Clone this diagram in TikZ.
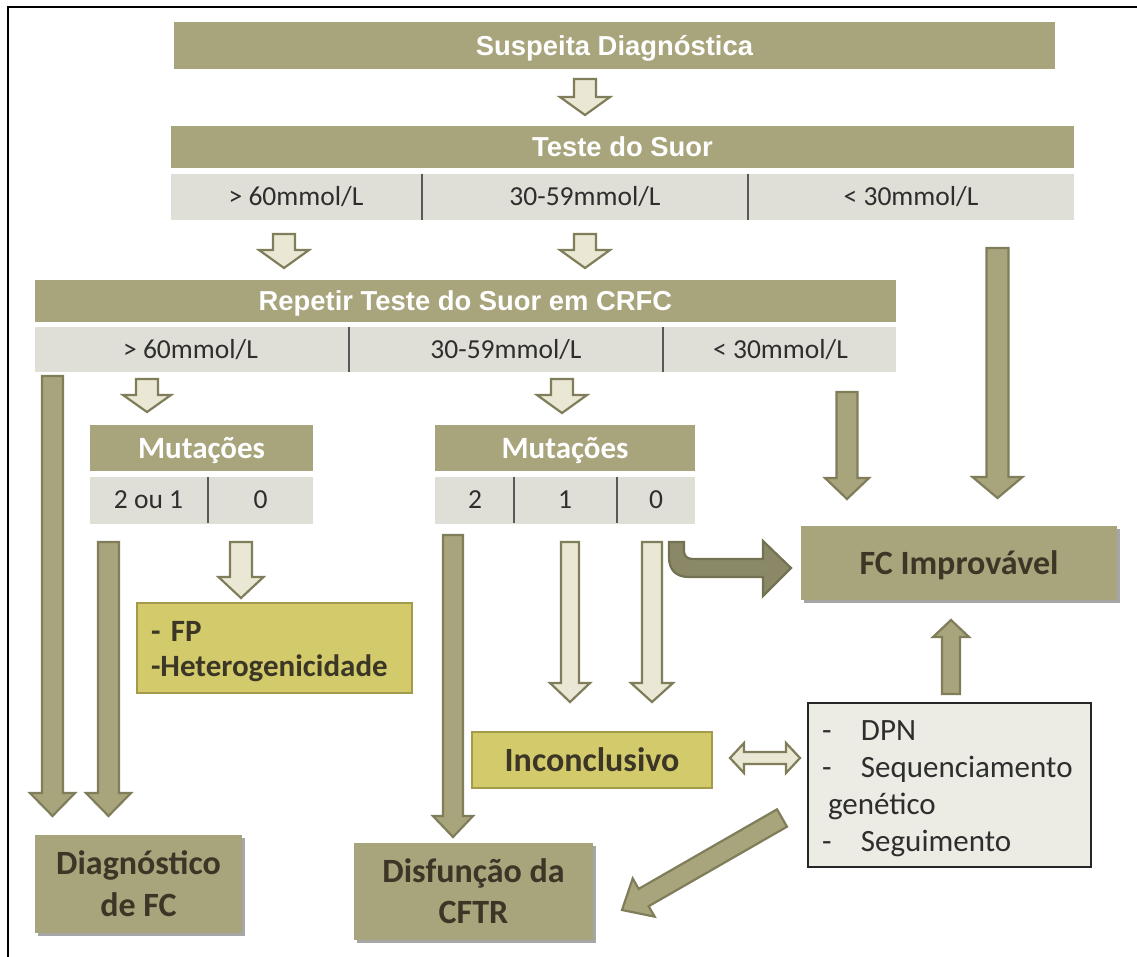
\documentclass[tikz,border=0pt]{standalone}
\usepackage{fontspec}
\setmainfont{Carlito}
\newfontfamily\barfont{Liberation Sans}
\usepackage{tikz}
\usetikzlibrary{calc, shadows}
\definecolor{olive}{HTML}{A8A47C}
\definecolor{bandgray}{HTML}{E0DFD7}
\definecolor{arrlight}{HTML}{EAE8D5}
\definecolor{arrborder}{HTML}{7F7D5A}
\definecolor{arrdark}{HTML}{8A8866}
\definecolor{yellowfill}{HTML}{D3CB6B}
\definecolor{yellowedge}{HTML}{A39B4A}
\definecolor{infogray}{HTML}{ECEBE4}
\definecolor{txtdark}{HTML}{2E2E2E}
\definecolor{boxtxt}{HTML}{3B3626}
\tikzset{
    bar/.style = {fill=olive, inner sep=0pt, text=white, text height=19.6pt, text depth=0pt,
                  font=\barfont\bfseries\fontsize{27.4}{30}\selectfont},
    band/.style = {fill=bandgray, inner sep=0pt},
    bandtxt/.style = {text=txtdark, inner sep=0pt, text height=17.7pt, text depth=0pt,
                      font=\fontsize{27.5}{30}\selectfont},
    mutbar/.style = {fill=olive, inner sep=0pt, text=white, text height=20pt, text depth=0pt,
                     font=\bfseries\fontsize{31}{34}\selectfont},
    divider/.style = {draw=txtdark!80, line width=1.2pt},
    result/.style = {fill=olive, inner sep=0pt, text=boxtxt, align=center,
                     font=\bfseries\fontsize{34}{42}\selectfont,
                     drop shadow={shadow xshift=2.5pt, shadow yshift=-2.5pt, opacity=0.35, fill=black}},
    yellowbox/.style = {fill=yellowfill, draw=yellowedge, line width=2.5pt, text=boxtxt,
                        font=\bfseries\fontsize{31}{35}\selectfont},
    infobox/.style = {fill=infogray, draw=black!85, line width=1.2pt, text=txtdark,
                      font=\fontsize{31}{37}\selectfont},
    lightarrow/.style = {fill=arrlight, draw=arrborder, line width=2.2pt, line join=miter},
    darkarrow/.style = {fill=olive, draw=arrborder, line width=2.2pt, line join=miter},
    bendarrow/.style = {fill=arrdark, draw=arrborder!90!black, line width=2.2pt, line join=miter},
}
% block arrow: style, from, to, shaft half width, head half width, head length
\newcommand{\blockarrow}[6]{%
  \path let \p1=(#2), \p2=(#3), \n1={atan2(\y2-\y1,\x2-\x1)},
            \n2={veclen(\x2-\x1,\y2-\y1)} in
    \pgfextra{\xdef\arrang{\n1}\xdef\arrlen{\n2}};
  \draw[#1, shift={(#2)}, rotate=\arrang]
    (0pt,-#4pt) -- (\arrlen-#6pt,-#4pt) -- (\arrlen-#6pt,-#5pt)
    -- (\arrlen,0pt) -- (\arrlen-#6pt,#5pt) -- (\arrlen-#6pt,#4pt)
    -- (0pt,#4pt) -- cycle;
}
% same with a head at both ends
\newcommand{\twoheadarrow}[6]{%
  \path let \p1=(#2), \p2=(#3), \n1={atan2(\y2-\y1,\x2-\x1)},
            \n2={veclen(\x2-\x1,\y2-\y1)} in
    \pgfextra{\xdef\arrang{\n1}\xdef\arrlen{\n2}};
  \draw[#1, shift={(#2)}, rotate=\arrang]
    (0pt,0pt) -- (#6pt,-#5pt) -- (#6pt,-#4pt) -- (\arrlen-#6pt,-#4pt) -- (\arrlen-#6pt,-#5pt)
    -- (\arrlen,0pt) -- (\arrlen-#6pt,#5pt) -- (\arrlen-#6pt,#4pt)
    -- (#6pt,#4pt) -- (#6pt,#5pt) -- cycle;
}

\begin{document}
\begin{tikzpicture}[x=1pt, y=-1pt]
        \useasboundingbox (0,0) rectangle (1137,956);
        % frame
        \draw[line width=2pt] (8,960) -- (8,7) -- (1140,7);
        % first test
        \node[bar, minimum width=881pt, minimum height=47pt] (susp) at (614.5,45.5) {Suspeita Diagnóstica};
        \node[bar, minimum width=903pt, minimum height=42pt] (teste) at (622.5,147) {Teste do Suor};
        \node[band, minimum width=903pt, minimum height=46pt] (testeband) at (622.5,197) {};
        \draw[divider] (422,174) -- (422,220);
        \draw[divider] (748,174) -- (748,220);
        \node[bandtxt] (t1high) at (296,197) {> 60mmol/L};
        \node[bandtxt] (t1mid) at (585,197) {30-59mmol/L};
        \node[bandtxt] (t1low) at (911,197) {< 30mmol/L};
        % repeated test
        \node[bar, minimum width=861pt, minimum height=42pt] (repetir) at (465.5,301) {Repetir Teste do Suor em CRFC};
        \node[band, minimum width=861pt, minimum height=45pt] (repband) at (465.5,349.5) {};
        \draw[divider] (349,327) -- (349,372);
        \draw[divider] (663,327) -- (663,372);
        \node[bandtxt] (t2high) at (190.5,349.5) {> 60mmol/L};
        \node[bandtxt] (t2mid) at (506,349.5) {30-59mmol/L};
        \node[bandtxt] (t2low) at (780.5,349.5) {< 30mmol/L};
        % mutations, left
        \node[mutbar, minimum width=223pt, minimum height=46pt] (mutl) at (201.5,448) {Mutações};
        \node[band, minimum width=223pt, minimum height=47pt] (mutlband) at (201.5,500) {};
        \draw[divider] (208,477) -- (208,523);
        \node[bandtxt] (ml21) at (148.5,500) {2 ou 1};
        \node[bandtxt] (ml0) at (260.5,500) {0};
        % mutations, right
        \node[mutbar, minimum width=260pt, minimum height=46pt] (mutr) at (565,448) {Mutações};
        \node[band, minimum width=260pt, minimum height=47pt] (mutrband) at (565,500) {};
        \draw[divider] (514,477) -- (514,523);
        \draw[divider] (617,477) -- (617,523);
        \node[bandtxt] (mr2) at (475,500) {2};
        \node[bandtxt] (mr1) at (565,500) {1};
        \node[bandtxt] (mr0) at (656,500) {0};
        % outcomes
        \node[result, minimum width=316pt, minimum height=74pt, text height=22pt, text depth=0pt] (improv) at (959,563) {FC Improvável};
        \node[result, minimum width=207pt, minimum height=98pt] (diagfc) at (138.5,884) {Diagnóstico\\de FC};
        \node[result, minimum width=239pt, minimum height=97pt, font=\bfseries\fontsize{34}{41}\selectfont] (cftr) at (473.5,891.5) {Disfunção da\\CFTR};
        \node[yellowbox, minimum width=275pt, minimum height=90pt, align=left, text width=247pt, inner xsep=14pt] (fp) at (274.5,648) {\rule{0pt}{28pt}- FP\\-Heterogenicidade};
        \node[yellowbox, minimum width=240pt, minimum height=56pt, text height=22pt, text depth=0pt, font=\bfseries\fontsize{34}{40}\selectfont] (inconc) at (592,760) {Inconclusivo};
        \node[infobox, minimum width=283pt, minimum height=164pt, align=left, text width=255pt, inner xsep=14pt] (seguir) at (949.5,785)
            {\rule{0pt}{28pt}\makebox[39pt][l]{-}DPN\\ \makebox[39pt][l]{-}Sequenciamento\\ \hspace*{6pt}genético\\ \makebox[39pt][l]{-}Seguimento};
        % arrow ends
        \coordinate (a1s) at (585,79);    \coordinate (a1e) at (585,115);
        \coordinate (a2s) at (284,234);   \coordinate (a2e) at (284,268);
        \coordinate (a3s) at (585,234);   \coordinate (a3e) at (585,268);
        \coordinate (a4s) at (147,379);   \coordinate (a4e) at (147,412);
        \coordinate (a5s) at (562,379);   \coordinate (a5e) at (562,413);
        \coordinate (a6s) at (241,542);   \coordinate (a6e) at (241,598);
        \coordinate (b1s) at (997.5,248); \coordinate (b1e) at (997.5,498);
        \coordinate (b2s) at (847,392);   \coordinate (b2e) at (847,499);
        \coordinate (b3s) at (52.5,376);  \coordinate (b3e) at (52.5,816);
        \coordinate (b4s) at (108.5,542); \coordinate (b4e) at (108.5,816);
        \coordinate (b5s) at (453,535);   \coordinate (b5e) at (453,837);
        \coordinate (b6s) at (951,694);   \coordinate (b6e) at (951,620);
        \coordinate (b7s) at (782,818);   \coordinate (b7e) at (622,910);
        \coordinate (c1s) at (570,542);   \coordinate (c1e) at (570,702);
        \coordinate (c2s) at (652,542);   \coordinate (c2e) at (652,702);
        \coordinate (d1s) at (730,758);   \coordinate (d1e) at (800,758);
        % small hollow arrows
        \blockarrow{lightarrow}{a1s}{a1e}{11}{25}{18}
        \blockarrow{lightarrow}{a2s}{a2e}{11}{25}{18}
        \blockarrow{lightarrow}{a3s}{a3e}{11}{25}{18}
        \blockarrow{lightarrow}{a4s}{a4e}{11}{24}{17}
        \blockarrow{lightarrow}{a5s}{a5e}{11}{25}{18}
        \blockarrow{lightarrow}{a6s}{a6e}{11}{22.5}{21}
        \blockarrow{lightarrow}{c1s}{c1e}{9}{20}{19}
        \blockarrow{lightarrow}{c2s}{c2e}{10}{21}{19}
        \twoheadarrow{lightarrow}{d1s}{d1e}{6}{15}{14}
        % dark arrows
        \blockarrow{darkarrow}{b1s}{b1e}{11}{25}{21}
        \blockarrow{darkarrow}{b2s}{b2e}{10.5}{22}{21}
        \blockarrow{darkarrow}{b3s}{b3e}{10.5}{22.5}{23}
        \blockarrow{darkarrow}{b4s}{b4e}{10.5}{22.5}{23}
        \blockarrow{darkarrow}{b5s}{b5e}{10}{20}{21}
        \blockarrow{darkarrow}{b6s}{b6e}{9}{18}{17}
        \blockarrow{darkarrow}{b7s}{b7e}{10}{22}{25}
        % bent arrow to FC improvavel
        \draw[bendarrow] (669,542) -- (669,557) .. controls (669,570) and (676,577) .. (689,577)
            -- (763,577) -- (763,596) -- (791,568) -- (763,541) -- (763,559) -- (693,559)
            .. controls (687,559) and (684,556) .. (684,551) -- (684,542) -- cycle;
      \end{tikzpicture}
\end{document}
